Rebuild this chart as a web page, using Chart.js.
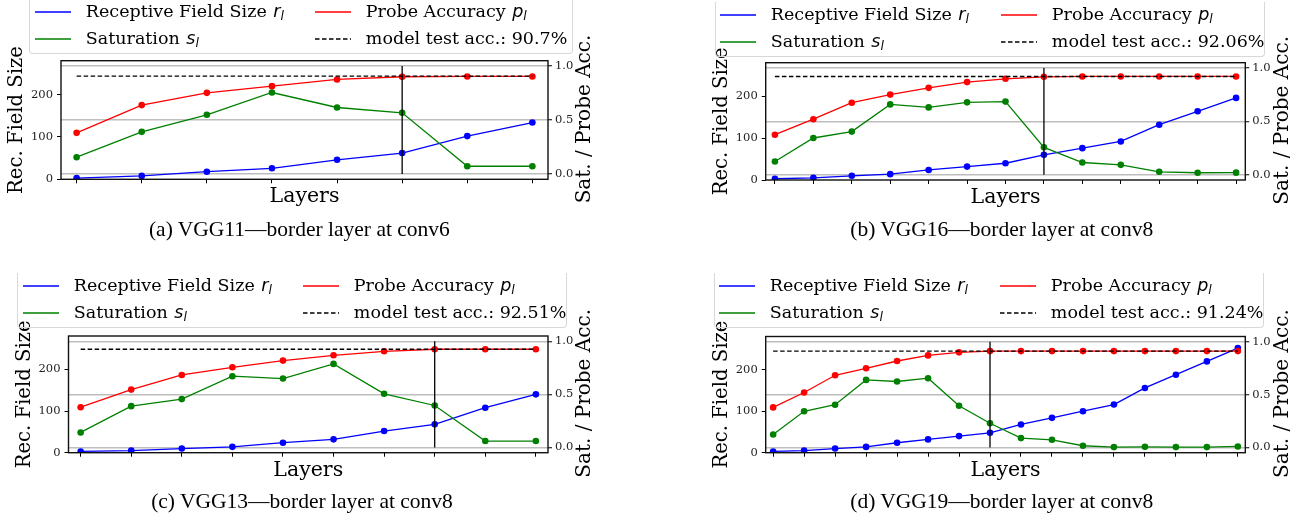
<!DOCTYPE html>
<html>
<head>
<meta charset="utf-8">
<script src="https://cdn.jsdelivr.net/npm/chart.js@4.4.1/dist/chart.umd.min.js"></script>
<style>
  body { margin: 0; background: #fff; }
  #page { position: relative; width: 1307px; height: 521px; overflow: hidden; }
  canvas { position: absolute; }
  .legend { position: absolute; box-sizing: border-box; border: 1px solid #d8d8d8; border-top: none;
            border-radius: 0 0 4px 4px; background: transparent; }
  .item { position: absolute; font: 17.5px "DejaVu Serif"; line-height: 20px; white-space: nowrap; color: #000; }
  .m { font-family: "DejaVu Sans"; font-style: italic; margin-left: 1px; }
  .m sub { font-size: 12.4px; vertical-align: -3px; line-height: 0; }
  .swatch { position: absolute; line-height: 0; }
  .swatch svg { display: block; }
  .caption { position: absolute; font: 21.5px "Liberation Serif"; line-height: 24px; white-space: nowrap;
             transform: translateX(-50%); color: #000; }
</style>
</head>
<body>
<div id="page"></div>
<script>
// ---- data ----
const captions = ['(a) VGG11—border layer at conv6', '(b) VGG16—border layer at conv8',
                  '(c) VGG13—border layer at conv8', '(d) VGG19—border layer at conv8'];
const testAcc = [0.907, 0.9206, 0.9251, 0.9124];
const testAccLabels = ['90.7%', '92.06%', '92.51%', '91.24%'];
const borderLayer = [5, 7, 7, 7];

const rfVGG11 = [3, 8, 18, 26, 46, 62, 102, 134];
const satVGG11 = [0.155, 0.39, 0.548, 0.755, 0.616, 0.567, 0.071, 0.071];
const accVGG11 = [0.381, 0.638, 0.752, 0.814, 0.876, 0.901, 0.904, 0.904];

const rfVGG16 = [3, 5, 10, 14, 24, 32, 40, 60, 76, 92, 132, 164, 196];
const satVGG16 = [0.123, 0.344, 0.404, 0.659, 0.631, 0.678, 0.685, 0.256, 0.114, 0.092, 0.027, 0.018, 0.019];
const accVGG16 = [0.375, 0.52, 0.675, 0.751, 0.814, 0.868, 0.899, 0.918, 0.921, 0.921, 0.921, 0.921, 0.921];

const rfVGG13 = [3, 5, 10, 14, 24, 32, 52, 68, 108, 140];
const satVGG13 = [0.141, 0.389, 0.455, 0.671, 0.649, 0.787, 0.505, 0.395, 0.06, 0.06];
const accVGG13 = [0.379, 0.545, 0.683, 0.755, 0.818, 0.868, 0.906, 0.925, 0.925, 0.925];

const rfVGG19 = [3, 5, 10, 14, 24, 32, 40, 48, 68, 84, 100, 116, 156, 188, 220, 252];
const satVGG19 = [0.122, 0.342, 0.404, 0.639, 0.624, 0.655, 0.395, 0.229, 0.088, 0.072, 0.016, 0.003, 0.006, 0.003, 0.003, 0.009];
const accVGG19 = [0.379, 0.52, 0.683, 0.749, 0.818, 0.871, 0.9, 0.912, 0.912, 0.912, 0.912, 0.912, 0.912, 0.912, 0.912, 0.912];

const rfTicks = [0, 100, 200];
const accTicks = [0, 0.5, 1.0];
const seriesNames = ['Receptive Field Size', 'Saturation', 'Probe Accuracy'];
const seriesSymbols = ['r', 's', 'p'];

const rf = [rfVGG11, rfVGG16, rfVGG13, rfVGG19];
const sat = [satVGG11, satVGG16, satVGG13, satVGG19];
const acc = [accVGG11, accVGG16, accVGG13, accVGG19];

// ---- layout (pixels) ----
const geom = [
  { x: 0,   y: 0,   w: 653, h: 272, L: 61,    R: 548,   T: 60.7, B: 179.3 },
  { x: 653, y: 0,   w: 654, h: 272, L: 112.7, R: 592.3, T: 62.7, B: 180 },
  { x: 0,   y: 272, w: 653, h: 249, L: 68.5,  R: 548,   T: 64,   B: 180.7 },
  { x: 653, y: 272, w: 654, h: 249, L: 112.7, R: 592.3, T: 64.5, B: 180.7 }
];
const legendGeom = [
  { L: 29.3,  R: 573.3,  row: 12 },
  { L: 714.5, R: 1264.5, row: 15 },
  { L: 17.3,  R: 567,    row: 286 },
  { L: 713.5, R: 1264,   row: 286 }
];
const captionPos = [[299.4, 236.5], [1001.7, 236.5], [302, 508], [1001.7, 508]];

const BLUE = '#0000ff', GREEN = '#008000', RED = '#ff0000';
const tickFont = { family: 'DejaVu Serif', size: 11.5 };

const page = document.getElementById('page');

function vText(ctx, text, x, y, size) {
  ctx.save();
  ctx.font = size + 'px "DejaVu Serif"';
  ctx.translate(x, y);
  ctx.rotate(-Math.PI / 2);
  ctx.fillText(text, 0, 0);
  ctx.restore();
}

// box around the plot plus the three axis titles
const framePlugin = {
  id: 'frame',
  afterDraw(chart) {
    const { ctx, chartArea: a } = chart;
    ctx.save();
    ctx.strokeStyle = '#111';
    ctx.lineWidth = 1.4;
    ctx.strokeRect(a.left, a.top, a.right - a.left, a.bottom - a.top);
    ctx.fillStyle = '#000';
    ctx.textAlign = 'center';
    ctx.textBaseline = 'middle';
    ctx.font = '20.5px "DejaVu Serif"';
    ctx.fillText('Layers', (a.left + a.right) / 2, a.bottom + 17.7);
    const cy = (a.top + a.bottom) / 2;
    vText(ctx, 'Rec. Field Size', a.left - 44, cy, 19.6);
    vText(ctx, 'Sat. / Probe Acc.', a.right + 37, cy - 1, 20);
    ctx.restore();
  }
};

function el(tag, cls, style, html) {
  const e = document.createElement(tag);
  if (cls) e.className = cls;
  Object.assign(e.style, style);
  if (html) e.innerHTML = html;
  page.appendChild(e);
  return e;
}

function drawPanel(i) {
  const g = geom[i];
  const n = rf[i].length;
  const pts = arr => arr.map((v, k) => ({ x: k, y: v }));
  const cv = el('canvas', '', { left: g.x + 'px', top: g.y + 'px' });
  cv.width = g.w;
  cv.height = g.h;

  new Chart(cv, {
    type: 'line',
    data: {
      datasets: [
        { label: seriesNames[0], data: pts(rf[i]), yAxisID: 'y', borderColor: BLUE, backgroundColor: BLUE, order: 5 },
        { label: seriesNames[1], data: pts(sat[i]), yAxisID: 'y2', borderColor: GREEN, backgroundColor: GREEN, order: 4 },
        { label: seriesNames[2], data: pts(acc[i]), yAxisID: 'y2', borderColor: RED, backgroundColor: RED, order: 3 },
        { label: 'border layer', data: [{ x: borderLayer[i], y: 0 }, { x: borderLayer[i], y: 1 }], yAxisID: 'y2',
          borderColor: '#000', pointRadius: 0, order: 2 },
        { label: 'model test acc.', data: [{ x: 0, y: testAcc[i] }, { x: n - 1, y: testAcc[i] }], yAxisID: 'y2',
          borderColor: '#000', borderDash: [4.5, 2.5], pointRadius: 0, order: 1 }
      ]
    },
    options: {
      responsive: false,
      animation: false,
      events: [],
      layout: { padding: { left: g.L - 57, top: g.T, right: g.w - g.R - 40, bottom: g.h - g.B - 30 } },
      plugins: { legend: { display: false }, tooltip: { enabled: false } },
      elements: {
        line: { borderWidth: 1.3, tension: 0, fill: false },
        point: { radius: 3.3, borderWidth: 0 }
      },
      scales: {
        x: {
          type: 'linear', min: -0.24, max: n - 1 + 0.24,
          afterBuildTicks: s => { s.ticks = rf[i].map((_, k) => ({ value: k })); },
          afterFit: s => { s.height = 30; },
          grid: { drawOnChartArea: false, tickLength: 4, tickColor: '#000', tickWidth: 1 },
          border: { display: false },
          ticks: { display: false }
        },
        y: {
          position: 'left', min: 0, max: 280,
          afterBuildTicks: s => { s.ticks = rfTicks.map(v => ({ value: v })); },
          afterFit: s => { s.width = 57; },
          grid: { drawOnChartArea: false, tickLength: 4, tickColor: '#000', tickWidth: 1 },
          border: { display: false },
          ticks: { font: tickFont, color: '#222', padding: 4 }
        },
        y2: {
          position: 'right', min: -0.05, max: 1.05,
          afterBuildTicks: s => { s.ticks = accTicks.map(v => ({ value: v })); },
          afterFit: s => { s.width = 40; },
          grid: { drawOnChartArea: true, color: '#bdbdbd', lineWidth: 1.5, tickLength: 4, tickColor: '#000', tickWidth: 1 },
          border: { display: false },
          ticks: { font: tickFont, color: '#222', padding: 3, callback: v => v.toFixed(1) }
        }
      }
    },
    plugins: [framePlugin]
  });

  // legend, two columns like the original
  const lg = legendGeom[i];
  el('div', 'legend', { left: lg.L + 'px', top: (lg.row - 13) + 'px', width: (lg.R - lg.L) + 'px', height: '55px' });
  const rows = [lg.row, lg.row + 26.6];
  const sym = k => seriesNames[k] + ' <span class="m">' + seriesSymbols[k] + '<sub>l</sub></span>';
  const items = [
    { col: 0, row: 0, color: BLUE, html: sym(0) },
    { col: 0, row: 1, color: GREEN, html: sym(1) },
    { col: 1, row: 0, color: RED, html: sym(2) },
    { col: 1, row: 1, color: '#000', dashed: true, html: 'model test acc.: ' + testAccLabels[i] }
  ];
  items.forEach(it => {
    const sx = Math.round(lg.L + (it.col ? 286 : 5.7));
    const ty = Math.round(rows[it.row]);
    const dash = it.dashed ? ' stroke-dasharray="4.5 2.5"' : '';
    el('div', 'swatch', { left: sx + 'px', top: (ty - 3) + 'px' },
      '<svg width="36" height="6"><line x1="0" y1="3" x2="36" y2="3" stroke="' + it.color +
      '" stroke-width="1.5"' + dash + '/></svg>');
    el('div', 'item', { left: (sx + 50.8) + 'px', top: (ty + 5.3 - 16.2) + 'px' }, it.html);
  });

  el('div', 'caption', { left: captionPos[i][0] + 'px', top: (captionPos[i][1] - 19.25) + 'px' }, captions[i]);
}

for (let i = 0; i < 4; i++) drawPanel(i);
</script>
</body>
</html>
